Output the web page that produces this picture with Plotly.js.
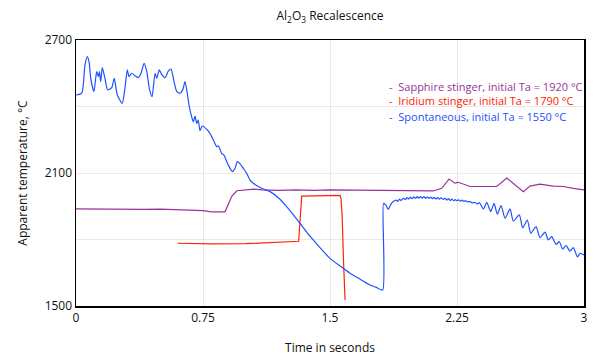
<!DOCTYPE html>
<html>
<head>
<meta charset="utf-8">
<script src="https://cdn.plot.ly/plotly-3.0.1.min.js"></script>
<style>html,body{margin:0;padding:0;background:#fff;}#chart{width:600px;height:360px;}</style>
</head>
<body>
<div id="chart"></div>
<script>
// Sapphire stinger (purple)
const sapphireT = [0, 0.1, 0.2, 0.3, 0.4, 0.5, 0.6, 0.7, 0.75, 0.8, 0.85, 0.88, 0.9, 0.92, 0.95, 1.0, 1.05, 1.1, 1.2, 1.3, 1.4, 1.5, 1.6, 1.7, 1.8, 1.9, 2.0, 2.11, 2.16, 2.203, 2.238, 2.258, 2.327, 2.4, 2.485, 2.544, 2.642, 2.681, 2.74, 2.819, 2.878, 2.937, 2.977, 3.0];
const sapphireV = [1938, 1937, 1936, 1937, 1936, 1937, 1935, 1933, 1930, 1925, 1923, 1925, 1960, 1995, 2020, 2025, 2027, 2024, 2022, 2024, 2022, 2024, 2023, 2023, 2023, 2022, 2022, 2019, 2031, 2073, 2054, 2058, 2039, 2039, 2039, 2077, 2016, 2041, 2050, 2041, 2039, 2031, 2026, 2024];

// Iridium stinger (red)
const iridiumT = [0.60, 0.8, 1.0, 1.2, 1.31, 1.315, 1.333, 1.40, 1.50, 1.559, 1.565, 1.572, 1.58, 1.589];
const iridiumV = [1783, 1780, 1781, 1786, 1791, 1792, 1996, 1997, 1998, 1999, 1985, 1900, 1700, 1527];

// Spontaneous (blue), before and after the recalescence jump
const spontT = [0, 0.004, 0.034, 0.053, 0.067, 0.077, 0.087, 0.106, 0.122, 0.132, 0.138, 0.146, 0.155, 0.171, 0.187, 0.211, 0.226, 0.244, 0.273, 0.289, 0.303, 0.313, 0.329, 0.348, 0.368, 0.384, 0.402, 0.418, 0.433, 0.449, 0.467, 0.477, 0.492, 0.506, 0.526, 0.545, 0.561, 0.579, 0.595, 0.614, 0.63, 0.644, 0.657, 0.669, 0.683, 0.693, 0.703, 0.713, 0.722, 0.732, 0.746, 0.772, 0.791, 0.811, 0.831, 0.841, 0.86, 0.874, 0.89, 0.91, 0.925, 0.939, 0.953, 0.969, 0.988, 1.008, 1.028, 1.047, 1.077, 1.106, 1.146, 1.2, 1.244, 1.28, 1.323, 1.36, 1.401, 1.45, 1.5, 1.56, 1.618, 1.68, 1.736, 1.77, 1.811, 1.816, 1.83, 1.844, 1.86, 1.874, 1.89, 1.9, 1.91, 1.92, 1.933, 1.945, 1.955, 1.965, 1.975, 1.985, 1.995, 2.005, 2.015, 2.025, 2.035, 2.045, 2.055, 2.065, 2.075, 2.085, 2.095, 2.105, 2.115, 2.125, 2.135, 2.145, 2.155, 2.169, 2.18, 2.19, 2.2, 2.21, 2.22, 2.23, 2.24, 2.248, 2.26, 2.27, 2.28, 2.29, 2.3, 2.31, 2.327, 2.34, 2.355, 2.37, 2.382, 2.406, 2.426, 2.449, 2.469, 2.488, 2.51, 2.534, 2.563, 2.583, 2.618, 2.638, 2.665, 2.686, 2.717, 2.74, 2.77, 2.789, 2.809, 2.835, 2.854, 2.874, 2.894, 2.917, 2.937, 2.961, 2.977, 3.0];
const spontV = [2452, 2452, 2460, 2587, 2625, 2602, 2527, 2467, 2557, 2535, 2557, 2512, 2575, 2527, 2475, 2485, 2527, 2452, 2414, 2482, 2565, 2535, 2550, 2539, 2530, 2550, 2595, 2557, 2482, 2444, 2550, 2527, 2565, 2545, 2530, 2560, 2569, 2512, 2467, 2460, 2475, 2512, 2460, 2400, 2354, 2331, 2357, 2324, 2339, 2291, 2312, 2297, 2279, 2249, 2219, 2222, 2189, 2181, 2151, 2121, 2106, 2121, 2151, 2141, 2121, 2099, 2068, 2054, 2039, 2028, 2016, 1985, 1948, 1915, 1873, 1836, 1798, 1755, 1715, 1680, 1648, 1620, 1595, 1585, 1572, 1963, 1955, 1936, 1960, 1971, 1978, 1972, 1982, 1976, 1986, 1980, 1989, 1983, 1991, 1984, 1992, 1985, 1993, 1986, 1994, 1987, 1993, 1986, 1992, 1985, 1991, 1984, 1990, 1983, 1989, 1982, 1988, 1981, 1986, 1978, 1984, 1976, 1982, 1975, 1980, 1975, 1979, 1973, 1978, 1972, 1976, 1970, 1971, 1965, 1968, 1960, 1966, 1938, 1968, 1926, 1963, 1914, 1953, 1896, 1938, 1883, 1911, 1853, 1888, 1828, 1858, 1808, 1833, 1798, 1813, 1778, 1790, 1757, 1772, 1748, 1763, 1722, 1738, 1730];

const seriesNames = ['Sapphire stinger, initial Ta = 1920 °C', 'Iridium stinger, initial Ta = 1790 °C', 'Spontaneous, initial Ta = 1550 °C'];
const seriesColors = ['#993399', '#ff2200', '#2050ff'];
const xTicks = [0, 0.75, 1.5, 2.25, 3];
const xTickText = ['0', '0.75', '1.5', '2.25', '3'];
const yTicks = [1500, 2100, 2700];

const FONT = 'Open Sans, DejaVu Sans, sans-serif';

const traces = [
  {x: sapphireT, y: sapphireV, name: seriesNames[0], mode: 'lines', line: {color: seriesColors[0], width: 1.2}},
  {x: iridiumT, y: iridiumV, name: seriesNames[1], mode: 'lines', line: {color: seriesColors[1], width: 1.2}},
  {x: spontT, y: spontV, name: seriesNames[2], mode: 'lines', line: {color: seriesColors[2], width: 1.2, shape: 'spline', smoothing: 0.6}}
];

const legendY = [0.827, 0.771, 0.714];
const annotations = seriesNames.map((n, i) => ({
  xref: 'paper', yref: 'paper', x: 0.612, y: legendY[i], xanchor: 'left', yanchor: 'middle',
  text: '-  ' + n, showarrow: false, font: {family: FONT, size: 11, color: seriesColors[i]}
}));

const layout = {
  width: 600, height: 360,
  margin: {l: 76, r: 16, t: 40, b: 54},
  paper_bgcolor: '#fff', plot_bgcolor: '#fff',
  font: {family: FONT, size: 12, color: '#111'},
  showlegend: false,
  title: {text: 'Al<sub>2</sub>O<sub>3</sub> Recalescence', x: 0.55, xanchor: 'center', y: 0.955, yanchor: 'middle', font: {family: FONT, size: 12, color: '#111'}},
  xaxis: {
    range: [0, 3], tickvals: xTicks, ticktext: xTickText, showgrid: true, gridcolor: '#e8e8e8', gridwidth: 1,
    zeroline: false, showline: true, linecolor: '#000', linewidth: 1.5, mirror: true, ticks: '',
    title: {text: 'Time in seconds', standoff: 18, font: {family: FONT, size: 12}}, automargin: false
  },
  yaxis: {
    range: [1500, 2700], tickvals: yTicks, showgrid: true, gridcolor: '#f6e4f3', gridwidth: 1,
    minor: {tickvals: [1800, 2400], showgrid: true, gridcolor: '#e8e8e8', gridwidth: 1, ticks: ''},
    zeroline: false, showline: true, linecolor: '#000', linewidth: 1.5, mirror: true, ticks: '',
    title: {text: 'Apparent temperature, °C', standoff: 14, font: {family: FONT, size: 12}}, automargin: false
  },
  annotations: annotations
};

Plotly.newPlot('chart', traces, layout, {displayModeBar: false, staticPlot: true});
</script>
</body>
</html>
